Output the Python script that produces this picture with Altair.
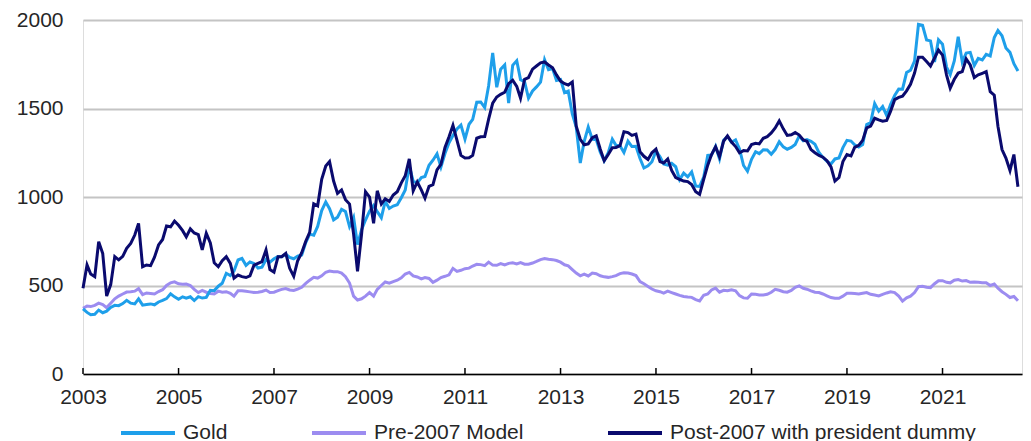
import altair as alt
import pandas as pd

# ---------------- data (monthly, Jan 2003 - Aug 2022) ----------------
months = pd.date_range("2003-01-01", periods=236, freq="MS").strftime("%Y-%m-%d").tolist()

gold = [
    368, 348, 335, 337, 361, 346, 355, 376, 388, 386, 398, 416,
    400, 396, 424, 389, 393, 396, 391, 407, 416, 426, 453, 436,
    422, 436, 428, 436, 415, 437, 429, 433, 473, 471, 496, 513,
    569, 556, 582, 644, 653, 614, 633, 624, 599, 604, 647, 632,
    651, 664, 662, 677, 659, 651, 666, 672, 743, 790, 784, 834,
    923, 972, 934, 871, 886, 930, 918, 833, 885, 731, 815, 870,
    920, 952, 917, 883, 976, 935, 949, 956, 996, 1040, 1176, 1088,
    1079, 1110, 1116, 1179, 1208, 1244, 1169, 1246, 1307, 1347, 1384, 1406,
    1327, 1411, 1439, 1536, 1537, 1506, 1629, 1814, 1620, 1722, 1746, 1531,
    1744, 1770, 1663, 1651, 1558, 1599, 1622, 1649, 1776, 1719, 1726, 1658,
    1664, 1589, 1598, 1469, 1395, 1192, 1315, 1395, 1327, 1324, 1253, 1205,
    1251, 1327, 1292, 1289, 1251, 1315, 1285, 1286, 1217, 1164, 1176, 1199,
    1260, 1227, 1187, 1180, 1190, 1171, 1098, 1135, 1114, 1142, 1062, 1060,
    1112, 1235, 1237, 1286, 1215, 1321, 1342, 1309, 1323, 1272, 1178, 1146,
    1213, 1256, 1245, 1267, 1266, 1242, 1268, 1312, 1283, 1270, 1280, 1297,
    1345, 1318, 1324, 1315, 1298, 1251, 1224, 1202, 1187, 1215, 1221, 1279,
    1320, 1316, 1295, 1282, 1296, 1409, 1420, 1528, 1485, 1511, 1460, 1523,
    1573, 1610, 1609, 1703, 1716, 1768, 1975, 1970, 1887, 1882, 1763, 1888,
    1863, 1734, 1691, 1769, 1905, 1763, 1813, 1817, 1743, 1783, 1774, 1806,
    1797, 1901, 1941, 1911, 1842, 1817, 1753, 1712,
]

pre2007 = [
    371, 384, 381, 388, 400, 392, 375, 400, 425, 440, 452, 463,
    465, 468, 482, 448, 458, 455, 452, 466, 476, 500, 515, 521,
    510, 507, 508, 500, 478, 460, 472, 462, 455, 452, 468, 462,
    465, 456, 440, 470, 470, 467, 464, 461, 462, 466, 474, 460,
    462, 471, 478, 483, 475, 472, 480, 490, 512, 530, 546, 542,
    555, 575, 582, 578, 578, 570, 550, 514, 440, 418, 425, 440,
    460, 440, 478, 500, 520, 513, 522, 530, 543, 565, 574, 554,
    548, 537, 545, 540, 518, 530, 545, 552, 560, 597, 580, 586,
    595, 598, 610, 620, 618, 612, 632, 615, 614, 624, 616, 625,
    628, 622, 629, 620, 620, 627, 636, 646, 652, 648, 646, 641,
    632, 617, 611, 590, 570, 555, 564, 554, 570, 567, 555, 549,
    546, 550, 556, 567, 572, 570, 565, 556, 522, 510, 495, 480,
    470, 465, 457, 468, 460, 452, 444, 438, 435, 433, 420, 413,
    445, 452, 475, 485, 462, 473, 470, 476, 470, 443, 430, 428,
    452, 450, 447, 447, 450, 462, 478, 473, 465, 462, 472, 490,
    498, 484, 479, 470, 462, 460, 452, 442, 432, 428, 428, 440,
    456, 456, 455, 452, 456, 460, 450, 446, 441, 450, 458, 464,
    460, 440, 412, 430, 440, 460, 494, 496, 490, 488, 510, 527,
    527, 518, 515, 530, 534, 525, 528, 518, 520, 518, 516, 516,
    500, 508, 485, 465, 450, 432, 438, 414,
]

post2007 = [
    484, 616, 565, 550, 748, 680, 440, 505, 663, 645, 665, 710,
    738, 785, 851, 606, 616, 612, 660, 729, 760, 836, 832, 864,
    840, 810, 775, 820, 797, 787, 701, 795, 740, 628, 606, 640,
    663, 625, 541, 559, 550, 545, 555, 615, 625, 635, 701, 590,
    575, 663, 663, 682, 597, 552, 640, 685, 750, 800, 962, 950,
    1100, 1175, 1200, 1090, 1020, 1040, 985, 960, 790, 580, 790, 1030,
    1000, 851, 1035, 960, 990, 975, 1011, 1030, 1080, 1120, 1215, 1035,
    1085, 1040, 993, 1060, 1070, 1153, 1185, 1280, 1340, 1405, 1320, 1235,
    1220, 1222, 1235, 1332, 1340, 1341, 1440, 1530, 1565, 1580, 1592, 1640,
    1660, 1625, 1558, 1665, 1675, 1722, 1740, 1758, 1763, 1746, 1730, 1690,
    1655, 1640, 1633, 1650, 1400, 1326, 1295, 1300, 1335, 1345, 1270, 1205,
    1240, 1278, 1280, 1290, 1369, 1364, 1348, 1355, 1255, 1230, 1212, 1250,
    1270, 1200, 1192, 1215, 1150, 1110, 1100, 1090, 1087, 1070, 1030, 1015,
    1100, 1180, 1240, 1283, 1228, 1315, 1345, 1310, 1285, 1250, 1262, 1260,
    1296, 1303, 1300, 1332, 1341, 1362, 1390, 1430, 1385, 1348, 1352, 1364,
    1350, 1322, 1315, 1268, 1250, 1235, 1225, 1205, 1170, 1090, 1110, 1200,
    1240, 1232, 1280, 1292, 1320, 1390, 1400, 1445, 1436, 1428, 1432, 1485,
    1550, 1563, 1570, 1600, 1637, 1700, 1790, 1790, 1765, 1740, 1785, 1830,
    1802, 1689, 1615, 1665, 1700, 1708, 1780, 1746, 1675, 1690, 1699, 1708,
    1595, 1575, 1400, 1268, 1220, 1150, 1240, 1058,
]

series_names = ["Gold", "Pre-2007 Model", "Post-2007 with president dummy"]
series_colors = ["#1E9FEA", "#9C8CF0", "#0A0A6E"]
draw_order = ["Pre-2007 Model", "Gold", "Post-2007 with president dummy"]
y_ticks = [0, 500, 1000, 1500, 2000]
x_tick_years = [2003, 2005, 2007, 2009, 2011, 2013, 2015, 2017, 2019, 2021]

# ---------------- table ----------------
rows = []
for name, vals in zip(series_names, [gold, pre2007, post2007]):
    for d, v in zip(months, vals):
        rows.append({"date": d, "series": name, "value": v})
df = pd.DataFrame(rows)
ticks_df = pd.DataFrame({"date": [f"{y}-01-01" for y in x_tick_years]})

FONT = "Liberation Sans"
TXT = "#262626"
W, H = 939, 354

x_scale = alt.Scale(domain=[alt.DateTime(year=2003, month=1, date=1),
                            alt.DateTime(year=2022, month=9, date=1)])

x_enc = alt.X(
    "date:T",
    scale=x_scale,
    axis=alt.Axis(
        title=None, grid=False, ticks=False, tickSize=0, labelFlush=False,
        values=[alt.DateTime(year=y, month=1, date=1) for y in x_tick_years],
        format="%Y", labelFont=FONT, labelFontSize=21, labelColor=TXT,
        labelPadding=12, domainColor="#000000", domainWidth=1.5, zindex=1,
    ),
)
y_enc = alt.Y(
    "value:Q",
    scale=alt.Scale(domain=[0, 2000], nice=False),
    axis=alt.Axis(
        title=None, values=y_ticks, format="d", grid=True, gridColor="#C4C4C4",
        gridWidth=2, domain=False, ticks=False, tickSize=0, labelFont=FONT,
        labelFontSize=21, labelColor=TXT, labelPadding=20,
    ),
)
color_enc = alt.Color(
    "series:N",
    scale=alt.Scale(domain=series_names, range=series_colors),
    legend=alt.Legend(
        title=None, orient="none", legendX=36, legendY=384, direction="horizontal",
        columns=3, columnPadding=76, symbolType="stroke", symbolSize=2916,
        symbolStrokeWidth=4, labelOffset=6, labelFont=FONT, labelFontSize=21,
        labelColor=TXT, padding=0, labelLimit=500,
    ),
)

base = alt.Chart(df).encode(x=x_enc, y=y_enc, color=color_enc)
layers = [
    base.transform_filter(alt.datum.series == s).mark_line(strokeWidth=3)
    for s in draw_order
]

tick_rules = alt.Chart(ticks_df).mark_rule(color="#000000", strokeWidth=1.5).encode(
    x=alt.X("date:T", scale=x_scale),
    y=alt.value(H - 6),
    y2=alt.value(H),
)

chart = alt.layer(*layers, tick_rules).properties(
    width=W, height=H,
    autosize=alt.AutoSizeParams(type="none"),
    padding={"left": 75, "top": 12, "right": 1, "bottom": 67},
).configure_view(stroke=None).configure(background="white")

chart.save("out.html", embed_options={"renderer": "svg", "actions": False})
